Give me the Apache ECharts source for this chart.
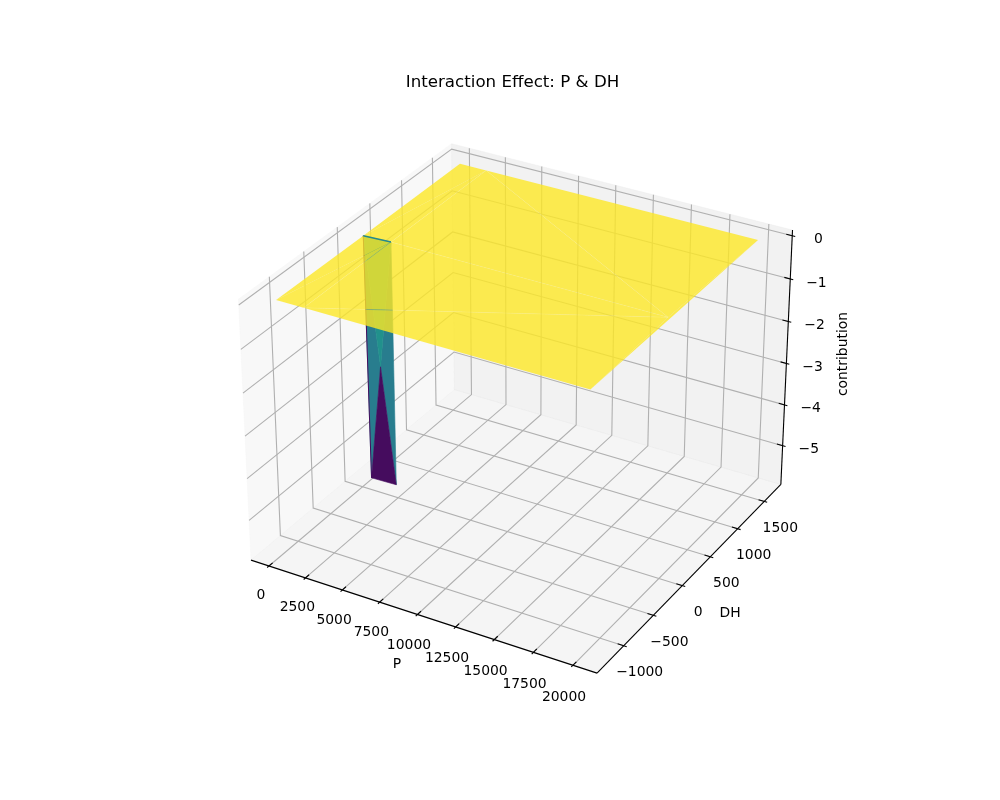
<!DOCTYPE html>
<html>
<head>
<meta charset="utf-8">
<style>html,body{margin:0;padding:0;background:#fff}#chart{width:1000px;height:800px}</style>
<script src="https://cdn.jsdelivr.net/npm/echarts@6/dist/echarts.min.js"></script>
</head>
<body>
<div id="chart"></div>
<script>
// ---------- chart data ----------
const chartTitle = 'Interaction Effect: P & DH';
const xName = 'P', yName = 'DH', zName = 'contribution';
const pTicks = [0, 2500, 5000, 7500, 10000, 12500, 15000, 17500, 20000];
const dhTicks = [-1000, -500, 0, 500, 1000, 1500];
const zTicks = [0, -1, -2, -3, -4, -5];
const pRange = [-1242, 21506];
const dhRange = [-1437, 1818];
const zRange = [-5.965, 0.129];
// surface vertices
const vertexP  = [214, 214, 20051, 20051, 246, 2029, 330, 2029, 1150, 2029, 2029, 19900];
const vertexDH = [-1220, 1609, 1609, -1220, 60, 79, 70, 79, 72, -1220, 1609, 76];
const vertexZ  = [0, 0, 0, 0, 0, 0, -5.8, -5.8, -3.0, 0, 0, 0];
// trisurf faces: vertex triples and their colour value on the viridis scale
const wallFaces = [[4, 6, 8], [5, 7, 8], [4, 5, 8], [6, 7, 8]];
const wallValues = [0.42, 0.42, 0.5, 0.03];
const planeFaces = [[0, 9, 5], [0, 5, 4], [4, 5, 10], [4, 10, 1], [9, 3, 11], [9, 11, 5], [5, 11, 10], [10, 11, 2], [3, 2, 11]];
const seamEdges = [[5, 11], [9, 11], [10, 11], [9, 10]];
const viridis = ['#440154', '#482475', '#414487', '#355f8d', '#2a788e', '#21918c', '#22a884', '#44bf70', '#7ad151', '#bddf26', '#fde725'];

// ---------- matplotlib-style 3D projection ----------
const norm3 = Math.hypot(4, 4, 3);
const boxScale = 1.8294640721620434 * 25 / 24 / norm3;
const box = [4 * boxScale, 4 * boxScale, 3 * boxScale];
const elev = 30 * Math.PI / 180, azim = -60 * Math.PI / 180, dist = 10;
const w = [Math.cos(elev) * Math.cos(azim), Math.cos(elev) * Math.sin(azim), Math.sin(elev)];
const uLen = Math.hypot(w[1], w[0]);
const u = [-w[1] / uLen, w[0] / uLen, 0];
const v = [w[1] * u[2] - w[2] * u[1], w[2] * u[0] - w[0] * u[2], w[0] * u[1] - w[1] * u[0]];
const axL = 204.5, axB = 712, axS = 616, vLo = -0.095, vSpan = 0.185;
function project(p) {
  const d = [
    ((p[0] - pRange[0]) / (pRange[1] - pRange[0]) - 0.5) * box[0],
    ((p[1] - dhRange[0]) / (dhRange[1] - dhRange[0]) - 0.5) * box[1],
    ((p[2] - zRange[0]) / (zRange[1] - zRange[0]) - 0.5) * box[2]
  ];
  const dot = a => a[0] * d[0] + a[1] * d[1] + a[2] * d[2];
  const depth = dist - dot(w);
  return [axL + (dot(u) / depth - vLo) / vSpan * axS, axB - (dot(v) / depth - vLo) / vSpan * axS];
}
function viridisColor(t) {
  const f = Math.max(0, Math.min(1, t)) * (viridis.length - 1), i = Math.min(Math.floor(f), viridis.length - 2), k = f - i;
  const rgb = s => [1, 3, 5].map(j => parseInt(s.substr(j, 2), 16));
  const a = rgb(viridis[i]), b = rgb(viridis[i + 1]);
  return 'rgb(' + a.map((c, j) => Math.round(c + (b[j] - c) * k)).join(',') + ')';
}
const vertex = i => [vertexP[i], vertexDH[i], vertexZ[i]];
const along = (a, b, s) => a.map((c, j) => c + (b[j] - c) * s);

// ---------- marks, in painter's order ----------
const [x0, x1] = pRange, [y0, y1] = dhRange, [z0, z1] = zRange;
const marks = [];
const poly = (pts, fill, stroke) => marks.push({ kind: 'poly', pts, fill, stroke });
const line = (pts, color, width) => marks.push({ kind: 'line', pts, color, width });
const text = (anchor, dx, dy, str, rot) => marks.push({ kind: 'text', anchor, dx, dy, str, rot: rot || 0 });
const gridC = 'rgb(176,176,176)', gridW = 1.1, axisW = 1.1;

poly([[x0, y0, z0], [x1, y0, z0], [x1, y1, z0], [x0, y1, z0]], 'rgba(236,236,236,0.5)', 'rgba(236,236,236,0.5)');
poly([[x0, y0, z0], [x0, y1, z0], [x0, y1, z1], [x0, y0, z1]], 'rgba(242,242,242,0.5)', 'rgba(242,242,242,0.5)');
poly([[x0, y1, z0], [x1, y1, z0], [x1, y1, z1], [x0, y1, z1]], 'rgba(230,230,230,0.5)', 'rgba(230,230,230,0.5)');

pTicks.forEach(t => line([[t, y0, z0], [t, y1, z0], [t, y1, z1]], gridC, gridW));
dhTicks.forEach(t => line([[x1, t, z0], [x0, t, z0], [x0, t, z1]], gridC, gridW));
zTicks.forEach(t => line([[x0, y0, t], [x0, y1, t], [x1, y1, t]], gridC, gridW));

line([[x0, y0, z0], [x1, y0, z0]], '#000', axisW);
line([[x1, y0, z0], [x1, y1, z0]], '#000', axisW);
line([[x1, y1, z0], [x1, y1, z1]], '#000', axisW);

const dp = (y1 - y0) / 12, dq = (x1 - x0) / 12;
pTicks.forEach((t, i) => {
  const frac = i / (pTicks.length - 1);
  line([[t, y0 + 0.2 * dp, z0], [t, y0 - 0.1 * dp, z0]], '#000', axisW);
  text([t, y0, z0], -8 - frac, 29.5 + 2.5 * frac, String(t));
});
dhTicks.forEach(t => {
  line([[x1 - 0.2 * dq, t, z0], [x1 + 0.1 * dq, t, z0]], '#000', axisW);
  text([x1, t, z0], 16, 27, String(t).replace('-', '\u2212'));
});
zTicks.forEach(t => {
  line([[x1 - 0.2 * dq, y1, t], [x1 + 0.1 * dq, y1, t]], '#000', axisW);
  text([x1, y1, t], 26.2, 4, String(t).replace('-', '\u2212'));
});

wallFaces.forEach((f, i) => poly(f.map(vertex), viridisColor(wallValues[i]), viridisColor(wallValues[i])));
line([vertex(4), vertex(6)], viridisColor(0.03), 1);
planeFaces.forEach(f => poly(f.map(vertex), 'rgba(253,231,37,0.8)', null));
seamEdges.forEach(e => line([vertex(e[0]), vertex(e[1])], 'rgba(255,255,255,0.12)', 0.8));
// where the seams cross the wall they show its colour through the plane
line([along(vertex(9), vertex(11), 0.173), along(vertex(9), vertex(11), 0.245)], 'rgba(60,140,140,0.45)', 0.9);
line([vertex(5), along(vertex(5), vertex(9), 0.284)], 'rgba(60,140,140,0.3)', 0.8);
line([vertex(4), vertex(5)], viridisColor(0.47), 1.6);

const labelPos = { x: [397, 664], y: [730, 613.5], z: [843, 354] };
marks.push({ kind: 'label', at: labelPos.x, str: xName, rot: 0 });
marks.push({ kind: 'label', at: labelPos.y, str: yName, rot: 0 });
marks.push({ kind: 'label', at: labelPos.z, str: zName, rot: Math.PI / 2 });

const FONT = '13.9px "DejaVu Sans"';
function renderItem(params, api) {
  const m = marks[params.dataIndex];
  const toPx = p => { const q = project(p); return api.coord(q); };
  if (m.kind === 'poly') {
    return { type: 'polygon', shape: { points: m.pts.map(toPx) },
      style: { fill: m.fill, stroke: m.stroke || 'none', lineWidth: m.stroke ? 0.6 : 0 } };
  }
  if (m.kind === 'line') {
    return { type: 'polyline', shape: { points: m.pts.map(toPx) },
      style: { stroke: m.color, lineWidth: m.width, fill: 'none' } };
  }
  const at = m.kind === 'text' ? (q => [q[0] + m.dx, q[1] + m.dy])(toPx(m.anchor)) : api.coord(m.at);
  return { type: 'text', x: at[0], y: at[1], rotation: m.rot,
    style: { x: 0, y: 0, text: m.str, fill: '#000', font: FONT, align: 'center', verticalAlign: 'middle' } };
}

const chart = echarts.init(document.getElementById('chart'), null, { renderer: 'canvas' });
chart.setOption({
  animation: false,
  backgroundColor: '#fff',
  title: { text: chartTitle, left: 507.5, top: 69, textAlign: 'center',
    textStyle: { fontFamily: 'DejaVu Sans', fontWeight: 'normal', fontSize: 16.67, color: '#000' } },
  grid: { left: 0, right: 0, top: 0, bottom: 0 },
  xAxis: { type: 'value', min: 0, max: 1000, show: false },
  yAxis: { type: 'value', min: 0, max: 800, inverse: true, show: false },
  series: [{ type: 'custom', coordinateSystem: 'cartesian2d', clip: false, silent: true,
    progressive: 0, renderItem, data: marks.map((m, i) => [i]) }]
});
</script>
</body>
</html>
